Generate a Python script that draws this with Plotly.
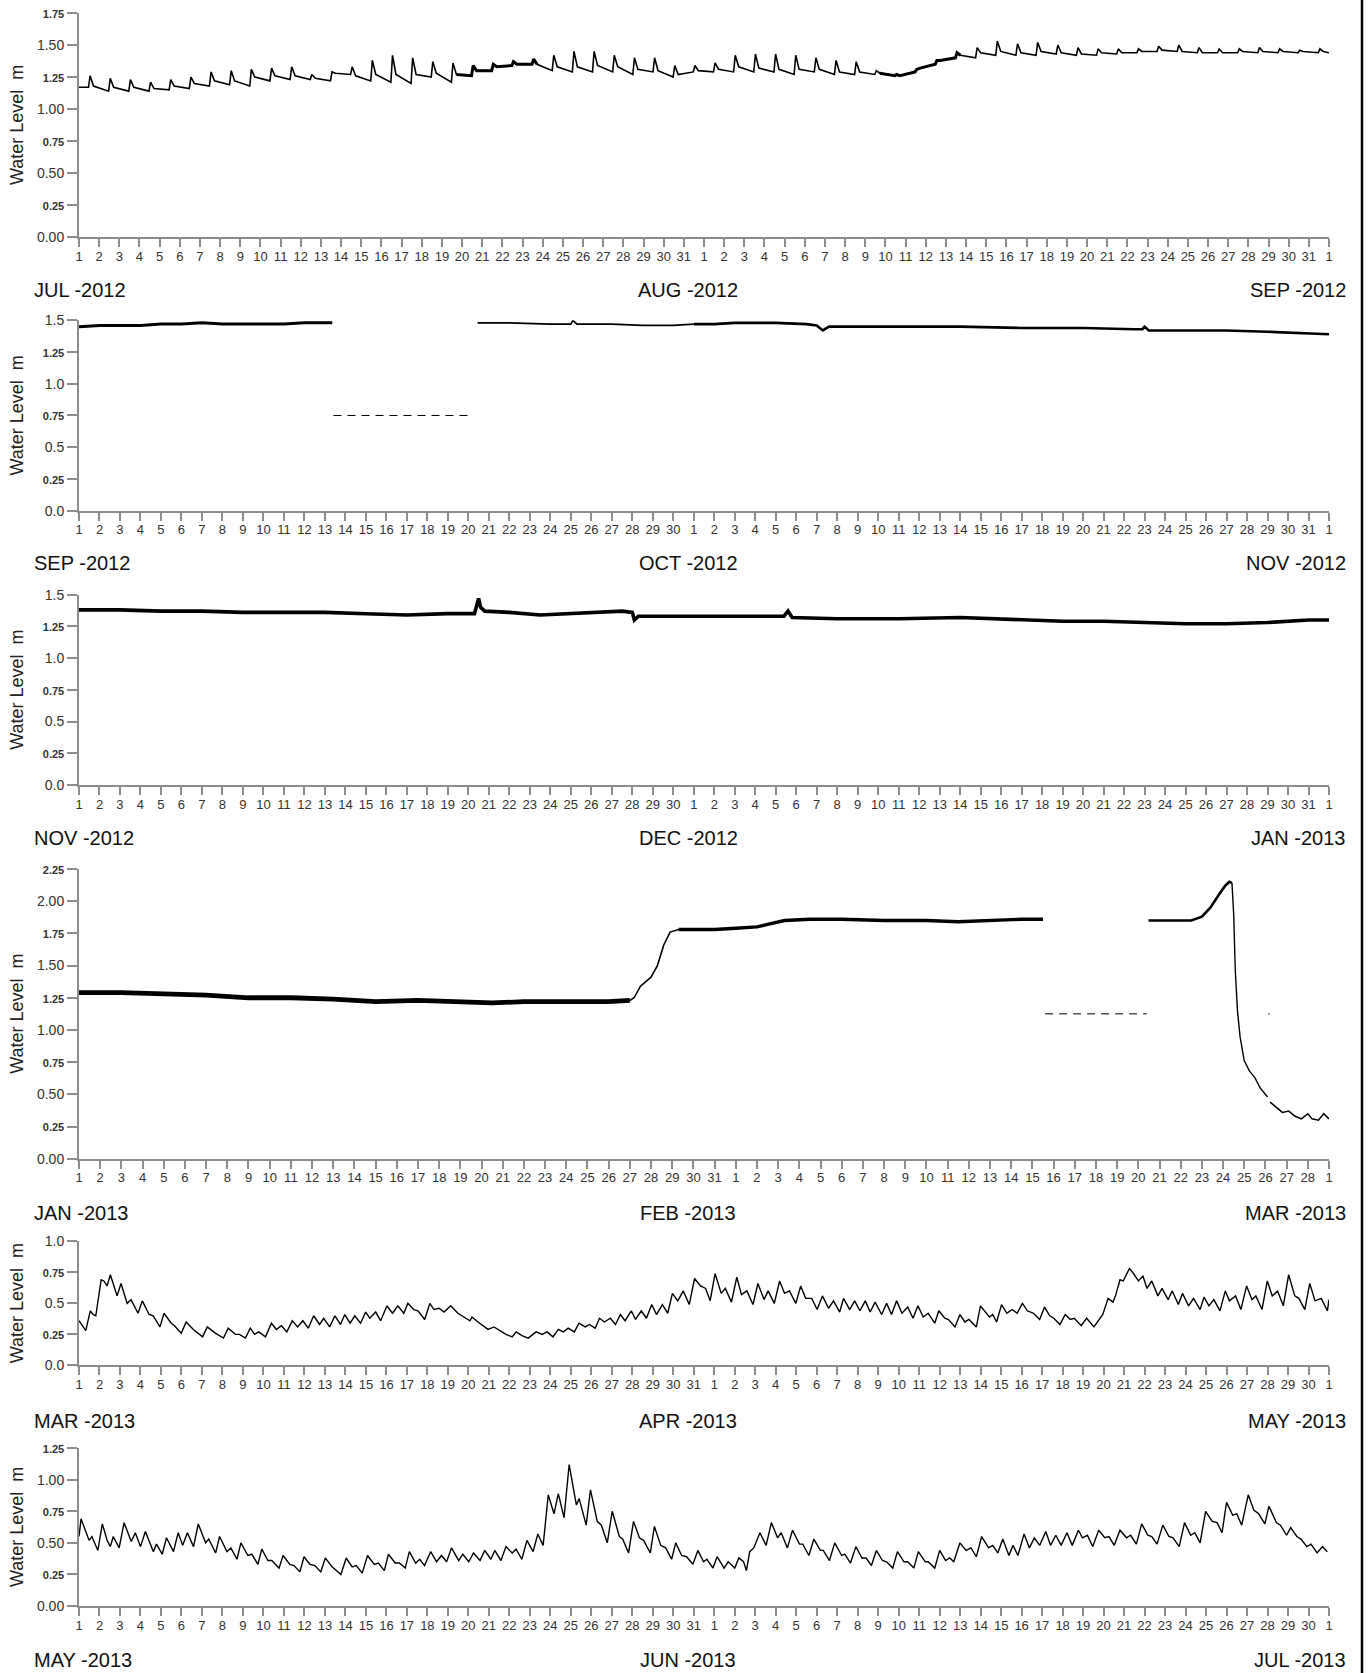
import pandas as pd
import plotly.graph_objects as go

FONT = "Liberation Sans, Arial, Helvetica, sans-serif"
AXIS_GREY = "#8c8c8c"

# ---------------- panel definitions ----------------
panel_start = ["2012-07-01", "2012-09-01", "2012-11-01", "2013-01-01", "2013-03-01", "2013-05-01"]
panel_end = ["2012-09-01", "2012-11-01", "2013-01-01", "2013-03-01", "2013-05-01", "2013-07-01"]
month_left = ["JUL -2012", "SEP -2012", "NOV -2012", "JAN -2013", "MAR -2013", "MAY -2013"]
month_mid = ["AUG -2012", "OCT -2012", "DEC -2012", "FEB -2013", "APR -2013", "JUN -2013"]
month_right = ["SEP -2012", "NOV -2012", "JAN -2013", "MAR -2013", "MAY -2013", "JUL -2013"]
y_max = [1.75, 1.5, 1.5, 2.25, 1.0, 1.25]
y_tick_vals = [
    [0, 0.25, 0.5, 0.75, 1.0, 1.25, 1.5, 1.75],
    [0, 0.25, 0.5, 0.75, 1.0, 1.25, 1.5],
    [0, 0.25, 0.5, 0.75, 1.0, 1.25, 1.5],
    [0, 0.25, 0.5, 0.75, 1.0, 1.25, 1.5, 1.75, 2.0, 2.25],
    [0, 0.25, 0.5, 0.75, 1.0],
    [0, 0.25, 0.5, 0.75, 1.0, 1.25],
]
y_tick_labels = [
    ["0.00", "0.25", "0.50", "0.75", "1.00", "1.25", "1.50", "1.75"],
    ["0.0", "0.25", "0.5", "0.75", "1.0", "1.25", "1.5"],
    ["0.0", "0.25", "0.5", "0.75", "1.0", "1.25", "1.5"],
    ["0.00", "0.25", "0.50", "0.75", "1.00", "1.25", "1.50", "1.75", "2.00", "2.25"],
    ["0.0", "0.25", "0.5", "0.75", "1.0"],
    ["0.00", "0.25", "0.50", "0.75", "1.00", "1.25"],
]
y_title = "Water Level&nbsp; m"

# ---------------- data (days since panel start, water level m) ----------------
# Panel 1: Jul-Aug 2012, one surge per day: level before surge, surge peak, level after
p1_start_level = 1.17
p1_trough = [1.17, 1.14, 1.14, 1.14, 1.15, 1.16, 1.18, 1.19, 1.18, 1.22,
             1.23, 1.23, 1.22, 1.27, 1.22, 1.21, 1.20, 1.25, 1.21, 1.26,
             1.30, 1.34, 1.35, 1.30, 1.29, 1.29, 1.29, 1.27, 1.29, 1.25,
             1.29, 1.29, 1.29, 1.29, 1.29, 1.27, 1.29, 1.27, 1.27, 1.27,
             1.26, 1.29, 1.35, 1.40, 1.40, 1.42, 1.42, 1.42, 1.43, 1.42,
             1.42, 1.43, 1.44, 1.45, 1.45, 1.44, 1.44, 1.44, 1.44, 1.44,
             1.44, 1.44]
p1_peak = [1.26, 1.24, 1.23, 1.21, 1.23, 1.25, 1.29, 1.30, 1.31, 1.32,
           1.33, 1.27, 1.29, 1.33, 1.38, 1.42, 1.40, 1.37, 1.36, 1.34,
           1.35, 1.37, 1.39, 1.42, 1.45, 1.45, 1.42, 1.40, 1.40, 1.34,
           1.34, 1.36, 1.42, 1.43, 1.43, 1.42, 1.40, 1.38, 1.37, 1.30,
           1.27, 1.31, 1.38, 1.44, 1.48, 1.53, 1.51, 1.52, 1.50, 1.48,
           1.47, 1.47, 1.47, 1.49, 1.50, 1.48, 1.47, 1.47, 1.48, 1.47,
           1.46, 1.47]
p1_after = [1.18, 1.17, 1.17, 1.16, 1.18, 1.20, 1.22, 1.22, 1.25, 1.26,
            1.26, 1.24, 1.28, 1.26, 1.27, 1.27, 1.27, 1.28, 1.27, 1.30,
            1.33, 1.35, 1.35, 1.33, 1.33, 1.34, 1.33, 1.31, 1.30, 1.27,
            1.30, 1.31, 1.33, 1.32, 1.31, 1.31, 1.31, 1.29, 1.29, 1.28,
            1.26, 1.32, 1.38, 1.42, 1.44, 1.45, 1.44, 1.45, 1.44, 1.43,
            1.44, 1.44, 1.45, 1.46, 1.45, 1.44, 1.44, 1.45, 1.45, 1.45,
            1.45, 1.45]
p1_end_level = 1.44
p1_phase = [0.47, 0.55, 0.72]   # time of day of: before surge, peak, after
p1_noisy_days = [(19, 23), (40, 44)]   # day spans drawn as a thicker, noisy band

# Panel 2: Sep-Oct 2012
p2a_day = [0, 1, 2, 3, 4, 5, 6, 7, 8, 9, 10, 11, 12, 12.36]
p2a_level = [1.45, 1.46, 1.46, 1.46, 1.47, 1.47, 1.48, 1.47, 1.47, 1.47, 1.47, 1.48, 1.48, 1.48]
p2_gap_day = [12.42, 19.1]
p2_gap_level = [0.75, 0.75]
p2b_day = [19.45, 21, 23, 24.0, 24.1, 24.3, 26, 27.5, 29, 30]
p2b_level = [1.48, 1.48, 1.47, 1.47, 1.50, 1.47, 1.47, 1.46, 1.46, 1.47]
p2c_day = [30, 31, 32, 34, 35.5, 36.0, 36.3, 36.6, 37.5, 40, 43, 46, 49, 51.5, 51.9, 52.0, 52.2, 54, 56, 58, 60, 61]
p2c_level = [1.47, 1.47, 1.48, 1.48, 1.47, 1.46, 1.42, 1.45, 1.45, 1.45, 1.45, 1.44, 1.44, 1.43, 1.43, 1.45, 1.42, 1.42, 1.42, 1.41, 1.40, 1.39]

# Panel 3: Nov-Dec 2012
p3_day = [0, 2, 4, 6, 8, 10, 12, 14, 16, 18,
          19.3, 19.5, 19.6, 19.8, 21, 22.5, 24, 25, 26.5, 27.0,
          27.1, 27.3, 29, 31, 33, 34.4, 34.6, 34.8, 37, 40,
          43, 45, 46, 48, 50, 52, 54, 56, 58, 60, 61]
p3_level = [1.38, 1.38, 1.37, 1.37, 1.36, 1.36, 1.36, 1.35, 1.34, 1.35,
            1.35, 1.47, 1.40, 1.37, 1.36, 1.34, 1.35, 1.36, 1.37, 1.36,
            1.30, 1.33, 1.33, 1.33, 1.33, 1.33, 1.37, 1.32, 1.31, 1.31,
            1.32, 1.31, 1.30, 1.29, 1.29, 1.28, 1.27, 1.27, 1.28, 1.30, 1.30]

# Panel 4: Jan-Feb 2013
p4a_day = [0, 2, 4, 6, 8, 10, 12, 14, 16, 18,
           19.5, 21, 23, 25, 26.0, 26.2, 26.5, 26.8, 27.0, 27.3,
           27.6, 27.9, 28.3, 30, 31, 32, 32.5, 33.3, 34.5, 36,
           38, 40, 41.5, 43, 44.5, 45.5]
p4a_level = [1.29, 1.29, 1.28, 1.27, 1.25, 1.25, 1.24, 1.22, 1.23, 1.22,
             1.21, 1.22, 1.22, 1.22, 1.23, 1.25, 1.34, 1.38, 1.41, 1.50,
             1.66, 1.76, 1.78, 1.78, 1.79, 1.80, 1.82, 1.85, 1.86, 1.86,
             1.85, 1.85, 1.84, 1.85, 1.86, 1.86]
p4_gap_day = [45.6, 50.4]
p4_gap_level = [1.125, 1.125]
p4b_day = [50.48, 51.5, 52.5, 53.0, 53.4, 53.8, 54.1, 54.3, 54.42, 54.5,
           54.58, 54.68, 54.8, 55.0, 55.25, 55.5, 55.75, 56.0, 56.1]
p4b_level = [1.85, 1.85, 1.85, 1.88, 1.95, 2.05, 2.12, 2.15, 2.14, 1.90,
             1.45, 1.15, 0.95, 0.76, 0.68, 0.63, 0.55, 0.50, 0.48]
p4_gap2_day = [56.13, 56.2]
p4_gap2_level = [1.125, 1.125]
p4c_day = [56.22, 56.5, 56.8, 57.1, 57.4, 57.7, 58.0, 58.2, 58.5, 58.75, 59.0]
p4c_level = [0.44, 0.40, 0.36, 0.37, 0.33, 0.31, 0.35, 0.31, 0.30, 0.35, 0.31]

# Panel 5: Mar-Apr 2013
p5_day = [0.00, 0.33, 0.55, 0.68, 0.82, 1.08, 1.21, 1.37, 1.53, 1.86,
          2.05, 2.35, 2.54, 2.88, 3.09, 3.42, 3.62, 3.95, 4.15, 4.50,
          4.66, 4.99, 5.23, 5.58, 6.03, 6.26, 6.65, 7.05, 7.28, 7.63,
          7.83, 8.12, 8.36, 8.57, 8.77, 9.10, 9.39, 9.63, 9.88, 10.14,
          10.41, 10.67, 10.92, 11.19, 11.45, 11.74, 11.94, 12.23, 12.49, 12.76,
          12.97, 13.23, 13.46, 13.74, 13.99, 14.19, 14.48, 14.72, 15.03, 15.30,
          15.56, 15.85, 16.05, 16.34, 16.54, 16.67, 16.87, 17.12, 17.32, 17.57,
          17.81, 18.14, 18.49, 19.08, 19.18, 19.47, 19.96, 20.25, 20.55, 20.84,
          21.14, 21.33, 21.62, 21.92, 22.31, 22.60, 22.84, 23.13, 23.39, 23.64,
          23.87, 24.17, 24.40, 24.70, 24.91, 25.19, 25.40, 25.64, 25.93, 26.18,
          26.42, 26.65, 26.95, 27.16, 27.44, 27.69, 27.95, 28.18, 28.47, 28.73,
          28.96, 29.22, 29.49, 29.78, 30.04, 30.33, 30.58, 30.80, 31.04, 31.34,
          31.54, 31.84, 32.10, 32.33, 32.59, 32.89, 33.13, 33.43, 33.63, 33.93,
          34.19, 34.43, 34.67, 34.98, 35.22, 35.46, 35.76, 36.02, 36.28, 36.58,
          36.82, 37.12, 37.31, 37.61, 37.85, 38.11, 38.37, 38.61, 38.85, 39.17,
          39.41, 39.65, 39.90, 40.16, 40.44, 40.70, 40.94, 41.20, 41.44, 41.76,
          41.96, 42.25, 42.43, 42.75, 42.99, 43.23, 43.43, 43.79, 43.99, 44.19,
          44.43, 44.59, 44.78, 45.02, 45.28, 45.54, 45.78, 46.04, 46.28, 46.58,
          46.88, 47.12, 47.37, 47.57, 47.87, 48.13, 48.37, 48.57, 48.91, 49.17,
          49.37, 49.53, 49.96, 50.22, 50.46, 50.60, 50.80, 50.96, 51.26, 51.46,
          51.70, 51.92, 52.12, 52.35, 52.65, 52.85, 53.15, 53.35, 53.65, 53.85,
          54.15, 54.39, 54.71, 54.90, 55.14, 55.38, 55.68, 55.94, 56.14, 56.44,
          56.70, 56.98, 57.24, 57.43, 57.73, 57.99, 58.23, 58.49, 58.77, 59.03,
          59.33, 59.53, 59.82, 60.06, 60.32, 60.62, 60.92, 61.00]
p5_level = [0.36, 0.28, 0.44, 0.41, 0.40, 0.69, 0.68, 0.64, 0.73, 0.56,
            0.66, 0.50, 0.53, 0.42, 0.52, 0.41, 0.40, 0.31, 0.42, 0.34,
            0.32, 0.26, 0.35, 0.29, 0.23, 0.31, 0.26, 0.22, 0.30, 0.25,
            0.25, 0.22, 0.30, 0.25, 0.27, 0.23, 0.34, 0.29, 0.32, 0.27,
            0.36, 0.31, 0.36, 0.30, 0.40, 0.33, 0.38, 0.31, 0.40, 0.33,
            0.41, 0.34, 0.40, 0.34, 0.43, 0.38, 0.43, 0.36, 0.48, 0.42,
            0.48, 0.42, 0.50, 0.45, 0.44, 0.41, 0.37, 0.50, 0.45, 0.46,
            0.43, 0.48, 0.42, 0.36, 0.39, 0.35, 0.29, 0.31, 0.28, 0.25,
            0.23, 0.27, 0.24, 0.22, 0.27, 0.25, 0.27, 0.23, 0.29, 0.27,
            0.30, 0.27, 0.34, 0.31, 0.33, 0.30, 0.38, 0.35, 0.38, 0.33,
            0.41, 0.36, 0.44, 0.37, 0.44, 0.38, 0.49, 0.41, 0.49, 0.42,
            0.58, 0.52, 0.60, 0.49, 0.70, 0.64, 0.62, 0.52, 0.74, 0.58,
            0.62, 0.51, 0.71, 0.57, 0.60, 0.49, 0.66, 0.53, 0.60, 0.50,
            0.68, 0.58, 0.60, 0.50, 0.64, 0.54, 0.54, 0.45, 0.56, 0.46,
            0.52, 0.43, 0.54, 0.45, 0.52, 0.44, 0.52, 0.43, 0.51, 0.41,
            0.50, 0.41, 0.52, 0.42, 0.47, 0.38, 0.48, 0.39, 0.42, 0.34,
            0.44, 0.38, 0.37, 0.31, 0.41, 0.35, 0.37, 0.31, 0.48, 0.44,
            0.39, 0.41, 0.35, 0.49, 0.42, 0.45, 0.42, 0.50, 0.44, 0.42,
            0.37, 0.47, 0.40, 0.38, 0.33, 0.41, 0.37, 0.38, 0.32, 0.38,
            0.34, 0.31, 0.41, 0.54, 0.51, 0.57, 0.69, 0.68, 0.78, 0.74,
            0.68, 0.72, 0.62, 0.68, 0.56, 0.62, 0.53, 0.60, 0.49, 0.58,
            0.48, 0.54, 0.45, 0.55, 0.48, 0.53, 0.44, 0.60, 0.52, 0.56,
            0.45, 0.64, 0.53, 0.56, 0.45, 0.68, 0.56, 0.60, 0.48, 0.73,
            0.56, 0.54, 0.45, 0.66, 0.52, 0.54, 0.44, 0.53]

# Panel 6: May-Jun 2013
p6_day = [0.00, 0.10, 0.49, 0.63, 0.92, 1.14, 1.37, 1.53, 1.67, 1.96,
          2.20, 2.55, 2.75, 3.00, 3.24, 3.63, 3.78, 4.06, 4.27, 4.61,
          4.84, 5.06, 5.29, 5.59, 5.82, 6.18, 6.33, 6.67, 6.86, 7.22,
          7.41, 7.71, 7.90, 8.24, 8.43, 8.73, 8.92, 9.22, 9.41, 9.76,
          9.96, 10.29, 10.49, 10.78, 10.98, 11.27, 11.51, 11.80, 12.02, 12.35,
          12.78, 13.04, 13.33, 13.53, 13.82, 14.08, 14.41, 14.61, 14.90, 15.10,
          15.43, 15.63, 15.92, 16.12, 16.43, 16.63, 16.86, 17.16, 17.45, 17.69,
          17.94, 18.18, 18.53, 18.73, 19.02, 19.25, 19.57, 19.80, 20.10, 20.29,
          20.59, 20.84, 21.14, 21.33, 21.61, 21.86, 22.16, 22.39, 22.65, 22.90,
          23.18, 23.39, 23.67, 23.92, 24.27, 24.41, 24.75, 24.96, 25.29, 25.49,
          25.78, 26.02, 26.37, 26.53, 26.82, 27.06, 27.35, 27.55, 27.88, 28.08,
          28.39, 28.63, 28.92, 29.12, 29.41, 29.65, 29.96, 30.20, 30.48, 30.64,
          30.94, 31.14, 31.48, 31.68, 32.00, 32.20, 32.43, 32.57, 32.73, 32.93,
          33.23, 33.53, 33.79, 34.09, 34.27, 34.57, 34.82, 35.16, 35.32, 35.62,
          35.86, 36.18, 36.32, 36.62, 36.88, 37.22, 37.37, 37.65, 37.91, 38.21,
          38.41, 38.67, 38.91, 39.21, 39.41, 39.71, 39.94, 40.26, 40.44, 40.74,
          40.96, 41.30, 41.44, 41.76, 42.00, 42.29, 42.49, 42.69, 42.99, 43.29,
          43.53, 43.79, 44.05, 44.39, 44.59, 44.84, 45.08, 45.38, 45.58, 45.82,
          46.12, 46.38, 46.62, 46.88, 47.18, 47.41, 47.67, 47.93, 48.21, 48.47,
          48.77, 48.97, 49.21, 49.47, 49.76, 50.06, 50.26, 50.52, 50.80, 51.12,
          51.32, 51.60, 51.86, 52.16, 52.35, 52.61, 52.89, 53.19, 53.39, 53.69,
          53.95, 54.25, 54.45, 54.71, 54.98, 55.30, 55.54, 55.78, 56.00, 56.30,
          56.50, 56.74, 57.06, 57.33, 57.57, 57.87, 58.07, 58.43, 58.63, 58.93,
          59.13, 59.43, 59.63, 59.92, 60.12, 60.42, 60.68, 60.92]
p6_level = [0.55, 0.69, 0.52, 0.55, 0.44, 0.65, 0.52, 0.47, 0.55, 0.46,
            0.66, 0.51, 0.58, 0.47, 0.59, 0.43, 0.49, 0.41, 0.54, 0.43,
            0.58, 0.48, 0.58, 0.47, 0.65, 0.50, 0.53, 0.42, 0.55, 0.43,
            0.46, 0.37, 0.50, 0.40, 0.41, 0.33, 0.45, 0.36, 0.36, 0.30,
            0.40, 0.33, 0.32, 0.27, 0.39, 0.33, 0.32, 0.27, 0.38, 0.31,
            0.25, 0.38, 0.31, 0.32, 0.26, 0.40, 0.33, 0.34, 0.28, 0.41,
            0.34, 0.34, 0.30, 0.43, 0.34, 0.37, 0.32, 0.43, 0.35, 0.40,
            0.35, 0.46, 0.36, 0.41, 0.35, 0.42, 0.36, 0.44, 0.37, 0.44,
            0.36, 0.47, 0.42, 0.45, 0.37, 0.52, 0.43, 0.57, 0.48, 0.88,
            0.73, 0.89, 0.70, 1.12, 0.80, 0.85, 0.64, 0.92, 0.67, 0.64,
            0.50, 0.75, 0.55, 0.53, 0.42, 0.67, 0.54, 0.52, 0.42, 0.63,
            0.48, 0.46, 0.37, 0.50, 0.40, 0.39, 0.33, 0.44, 0.35, 0.37,
            0.30, 0.39, 0.30, 0.35, 0.30, 0.38, 0.35, 0.28, 0.43, 0.46,
            0.58, 0.48, 0.66, 0.54, 0.58, 0.46, 0.60, 0.49, 0.49, 0.40,
            0.53, 0.44, 0.44, 0.36, 0.50, 0.40, 0.41, 0.34, 0.47, 0.38,
            0.38, 0.32, 0.44, 0.36, 0.35, 0.30, 0.43, 0.35, 0.35, 0.30,
            0.43, 0.35, 0.35, 0.30, 0.44, 0.36, 0.38, 0.35, 0.50, 0.44,
            0.46, 0.39, 0.55, 0.46, 0.48, 0.42, 0.53, 0.40, 0.48, 0.40,
            0.57, 0.46, 0.54, 0.48, 0.59, 0.48, 0.56, 0.48, 0.58, 0.48,
            0.60, 0.54, 0.56, 0.47, 0.60, 0.54, 0.55, 0.48, 0.60, 0.54,
            0.56, 0.49, 0.65, 0.56, 0.55, 0.49, 0.64, 0.55, 0.54, 0.47,
            0.66, 0.56, 0.58, 0.50, 0.75, 0.67, 0.66, 0.58, 0.82, 0.72,
            0.73, 0.64, 0.88, 0.76, 0.73, 0.65, 0.79, 0.66, 0.64, 0.56,
            0.62, 0.55, 0.53, 0.47, 0.49, 0.42, 0.47, 0.43]

# ---------------- layout geometry ----------------
# Positions are pixels of the 1368 x 1673 reference page (body margin removed
# by post_script). The plot block spans reference rows PLOT_TOP..PLOT_BOTTOM;
# the figure margins were tuned so that block lands on those rows.
W, H = 1368, 1673
PLOT_LEFT, PLOT_RIGHT = 79, 1329
PLOT_TOP, PLOT_BOTTOM = 14, 1608
M_L = PLOT_LEFT
M_R = W - PLOT_RIGHT
M_T = 5
M_B = 67
PLOT_W = PLOT_RIGHT - PLOT_LEFT
PLOT_H = PLOT_BOTTOM - PLOT_TOP
panel_top_px = [14, 321.5, 596, 870.5, 1243, 1450]
panel_bot_px = [238.3, 512, 786.5, 1160.5, 1367.3, 1608]
month_label_px = [291, 564, 840, 1215, 1423, 1662]


def py(p):
    return 1 - (p - PLOT_TOP) / PLOT_H


def pxx(p):
    return (p - PLOT_LEFT) / PLOT_W


def times(start, days):
    return pd.Timestamp(start) + pd.to_timedelta(pd.Series(days, dtype=float), unit="D")


fig = go.Figure()


def add_line(panel, days, levels, width=1.3, dash=None):
    fig.add_trace(go.Scatter(
        x=times(panel_start[panel], days), y=levels, mode="lines",
        line=dict(color="#000000", width=width, dash=dash),
        xaxis="x" if panel == 0 else f"x{panel + 1}",
        yaxis="y" if panel == 0 else f"y{panel + 1}",
        hoverinfo="skip", showlegend=False,
    ))


# panel 1
p1_days, p1_levels = [0.0], [p1_start_level]
for d in range(len(p1_peak)):
    p1_days += [d + p1_phase[0], d + p1_phase[1], d + p1_phase[2]]
    p1_levels += [p1_trough[d], p1_peak[d], p1_after[d]]
p1_days.append(62.0)
p1_levels.append(p1_end_level)
add_line(0, p1_days, p1_levels, 1.6)
for d0, d1 in p1_noisy_days:
    s = slice(3 * d0, 3 * d1 + 1)
    add_line(0, p1_days[s], p1_levels[s], 3.0)

# panel 2
add_line(1, p2a_day, p2a_level, 3.0)
add_line(1, p2_gap_day, p2_gap_level, 1.0, "8px,6px")
add_line(1, p2b_day, p2b_level, 1.6)
add_line(1, p2c_day, p2c_level, 2.6)

# panel 3
add_line(2, p3_day, p3_level, 3.6)

# panel 4
add_line(3, p4a_day, p4a_level, 1.6)
add_line(3, p4a_day[:15], p4a_level[:15], 4.8)
add_line(3, p4a_day[22:], p4a_level[22:], 3.4)
add_line(3, p4_gap_day, p4_gap_level, 1.0, "8px,6px")
add_line(3, p4b_day[:9], p4b_level[:9], 2.6)
add_line(3, p4b_day[8:], p4b_level[8:], 1.4)
add_line(3, p4_gap2_day, p4_gap2_level, 1.0)
add_line(3, p4c_day, p4c_level, 1.5)

# panels 5 and 6
add_line(4, p5_day, p5_level, 1.4)
add_line(5, p6_day, p6_level, 1.4)

layout = dict(
    width=W, height=H,
    margin=dict(l=M_L, r=M_R, t=M_T, b=M_B, pad=0),
    paper_bgcolor="white", plot_bgcolor="white",
    font=dict(family=FONT, color="#222222"),
    showlegend=False,
)

annotations = []
for i in range(6):
    sfx = "" if i == 0 else str(i + 1)
    ticks_x = pd.date_range(panel_start[i], panel_end[i], freq="D")
    layout["xaxis" + sfx] = dict(
        domain=[0, 1], anchor="y" + sfx, type="date",
        range=[panel_start[i], panel_end[i]],
        tickmode="array", tickvals=list(ticks_x), ticktext=[str(t.day) for t in ticks_x],
        ticks="outside", ticklen=8, tickwidth=2, tickcolor=AXIS_GREY,
        showline=True, linecolor=AXIS_GREY, linewidth=2,
        showgrid=False, zeroline=False, tickangle=0,
        tickfont=dict(family=FONT, size=13, color="#333333"),
        ticklabelstandoff=-2,
    )
    ttext = []
    for v, lab in zip(y_tick_vals[i], y_tick_labels[i]):
        if round(v / 0.25) % 2 == 1:
            ttext.append(f'<span style="font-size:11px;font-weight:bold">{lab}</span>')
        else:
            ttext.append(lab)
    layout["yaxis" + sfx] = dict(
        domain=[py(panel_bot_px[i]), py(panel_top_px[i])], anchor="x" + sfx,
        range=[0, y_max[i]],
        tickmode="array", tickvals=y_tick_vals[i], ticktext=ttext,
        ticks="outside", ticklen=10, tickwidth=2, tickcolor=AXIS_GREY,
        showline=True, linecolor=AXIS_GREY, linewidth=2,
        showgrid=False, zeroline=False,
        tickfont=dict(family=FONT, size=14, color="#333333"),
    )
    mid = (panel_top_px[i] + panel_bot_px[i]) / 2
    annotations.append(dict(
        text=y_title, xref="paper", yref="paper", x=pxx(17), y=py(mid),
        xanchor="center", yanchor="middle", textangle=-90, showarrow=False,
        font=dict(family=FONT, size=18, color="#222222"),
    ))
    ly = py(month_label_px[i])
    for txt, xp, anc in ((month_left[i], 32, "left"), (month_mid[i], 688, "center"),
                         (month_right[i], 1348, "right")):
        annotations.append(dict(
            text=txt, xref="paper", yref="paper", x=pxx(xp), y=ly,
            xanchor=anc, yanchor="middle", showarrow=False,
            font=dict(family=FONT, size=20, color="#111111"),
        ))

layout["annotations"] = annotations
# thin black frame line at the right edge of the page
layout["shapes"] = [dict(
    type="line", xref="paper", yref="paper", layer="above",
    x0=pxx(1362), x1=pxx(1362), y0=py(H + 20), y1=py(-20),
    line=dict(color="#000000", width=2.5),
)]

fig.update_layout(**layout)
fig.write_html(
    "out.html",
    config={"displayModeBar": False, "staticPlot": True},
    post_script="document.body.style.margin='0';document.body.style.overflow='hidden';",
)
